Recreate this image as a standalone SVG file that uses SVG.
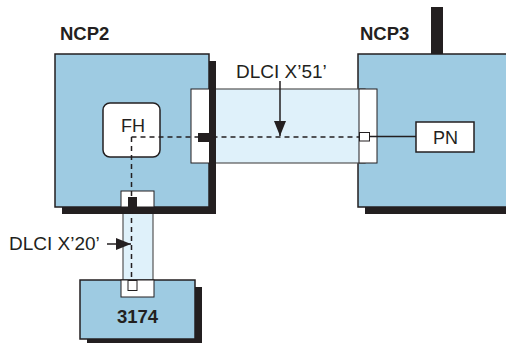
<svg xmlns="http://www.w3.org/2000/svg" width="506" height="343" viewBox="0 0 506 343">
<defs>
<style>
.box{fill:#9ecbe2;stroke:#231f20;stroke-width:1.5}
.shadow{fill:#231f20}
.chan{fill:#dff1fa;stroke:#555;stroke-width:1.2}
.end{fill:#fff;stroke:#231f20;stroke-width:1}
.lbl{font-family:"Liberation Sans",Arial,sans-serif;font-size:18px;fill:#231f20}
.big{font-size:19px}
.bold{font-weight:bold;font-size:18.5px}
.dash{stroke:#231f20;stroke-width:1.5;stroke-dasharray:5,4;fill:none}
.line{stroke:#231f20;stroke-width:1.5;fill:none}
</style>
<marker id="ah" markerWidth="15" markerHeight="12" refX="15" refY="6" orient="auto" markerUnits="userSpaceOnUse">
<path d="M0,0 L15,6 L0,12 Z" fill="#231f20"/>
</marker>
</defs>
<rect width="506" height="343" fill="#fff"/>

<g id="ncp3">
<rect class="shadow" x="431" y="7" width="12" height="47"/>
<rect class="shadow" x="365" y="61" width="150" height="153"/>
<rect class="box" x="358" y="54" width="160" height="153"/>
<text class="lbl bold" x="360" y="40">NCP3</text>
</g>

<g id="ch51">
<rect class="chan" x="205" y="89" width="160" height="74"/>
<rect class="end" x="359" y="89" width="18" height="74"/>
</g>

<g id="ncp2">
<rect class="shadow" x="62" y="61" width="154" height="153"/>
<rect class="box" x="55" y="54" width="154" height="153"/>
<text class="lbl bold" x="60" y="40">NCP2</text>
</g>

<g id="ch51left">
<rect class="end" x="191" y="89" width="20" height="74"/>
<rect class="shadow" x="209" y="61" width="7" height="153"/>
</g>

<g id="ch20">
<rect class="chan" x="123" y="200" width="30" height="84"/>
<rect class="end" x="121" y="191" width="33" height="16"/>
<rect class="shadow" x="121" y="207" width="33" height="7"/>
</g>

<g id="n3174">
<rect class="shadow" x="87" y="287" width="115" height="60"/>
<rect class="box" x="80" y="280" width="115" height="59"/>
<rect class="end" x="121" y="280" width="33" height="17"/>
<text class="lbl bold" x="137.5" y="323" text-anchor="middle">3174</text>
</g>

<g id="fh">
<rect x="103" y="103" width="57" height="54" rx="7" fill="#fff" stroke="#231f20" stroke-width="1.5"/>
<text class="lbl" x="133" y="132" text-anchor="middle">FH</text>
</g>

<g id="pn">
<rect x="416" y="122" width="58" height="30" fill="#fff" stroke="#231f20" stroke-width="1.5"/>
<text class="lbl" x="445.5" y="143.5" text-anchor="middle">PN</text>
</g>

<g id="connectors">
<path class="dash" d="M131.5,137 H359"/>
<path class="dash" d="M131.5,137 V280"/>
<path class="line" d="M369,136.5 H416"/>
<rect class="shadow" x="198" y="133" width="12" height="9"/>
<rect x="359.5" y="132.5" width="10" height="8.5" fill="#fff" stroke="#231f20" stroke-width="1"/>
<rect class="shadow" x="128" y="197" width="9" height="10"/>
<rect x="128" y="280.5" width="9" height="10" fill="#fff" stroke="#231f20" stroke-width="1"/>
<path class="line" d="M280,81 V136" marker-end="url(#ah)"/>
<path class="line" d="M107,244 H131" marker-end="url(#ah)"/>
</g>

<g id="labels">
<text class="lbl big" x="236" y="78">DLCI X’51’</text>
<text class="lbl big" x="9" y="250">DLCI X’20’</text>
</g>
</svg>
